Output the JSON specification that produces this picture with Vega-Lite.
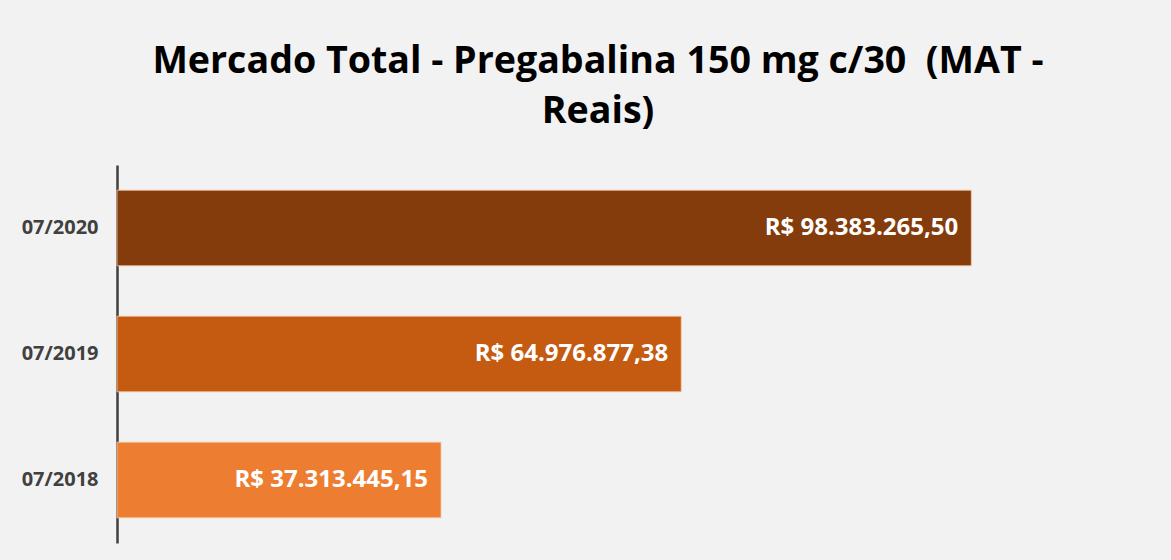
{
  "$schema": "https://vega.github.io/schema/vega-lite/v6.json",
  "autosize": "none",
  "width": 1042,
  "height": 378,
  "padding": {"left": 117, "top": 165, "right": 12, "bottom": 17},
  "background": "#f2f2f2",
  "config": {
    "view": {"stroke": null},
    "locale": {
      "number": {"decimal": ",", "thousands": ".", "grouping": [3], "currency": ["R$ ", ""]}
    },
    "font": "Open Sans"
  },
  "title": {
    "text": ["Mercado Total - Pregabalina 150 mg c/30 \u00a0(MAT -", "Reais)"],
    "font": "Open Sans",
    "fontSize": 37.6,
    "fontWeight": "bold",
    "color": "#000000",
    "lineHeight": 50,
    "anchor": "middle",
    "dx": -40,
    "offset": 34
  },
  "data": {
    "values": [
      {"periodo": "07/2020", "valor": 98383265.50},
      {"periodo": "07/2019", "valor": 64976877.38},
      {"periodo": "07/2018", "valor": 37313445.15}
    ]
  },
  "encoding": {
    "y": {
      "field": "periodo",
      "type": "nominal",
      "sort": ["07/2020", "07/2019", "07/2018"],
      "scale": {"paddingInner": 0.4, "paddingOuter": 0.2},
      "axis": {
        "title": null,
        "ticks": false,
        "labelFont": "Open Sans",
        "labelFontSize": 20,
        "labelFontWeight": "bold",
        "labelColor": "#404040",
        "labelPadding": 19,
        "domainColor": "#404040",
        "domainWidth": 2.5
      }
    },
    "x": {
      "field": "valor",
      "type": "quantitative",
      "scale": {"domain": [0, 120000000], "nice": false},
      "axis": null
    }
  },
  "layer": [
    {
      "mark": {"type": "bar", "stroke": "#f5c9a8", "strokeWidth": 1, "strokeOpacity": 0.8},
      "encoding": {
        "color": {
          "field": "periodo",
          "type": "nominal",
          "scale": {"domain": ["07/2020", "07/2019", "07/2018"], "range": ["#843C0C", "#C55A11", "#ED7D31"]},
          "legend": null
        }
      }
    },
    {
      "mark": {"type": "text", "align": "right", "baseline": "middle", "dx": -13, "font": "Open Sans", "fontSize": 24, "fontWeight": "bold", "color": "#ffffff"},
      "encoding": {
        "text": {"field": "valor", "type": "quantitative", "format": "$,.2f"}
      }
    }
  ]
}
